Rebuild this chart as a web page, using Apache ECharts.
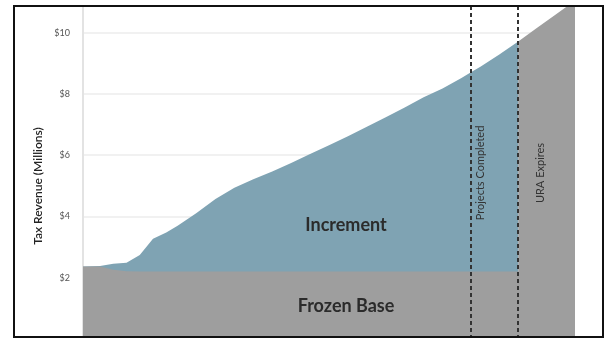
<!DOCTYPE html>
<html>
<head>
<meta charset="utf-8">
<script src="https://cdn.jsdelivr.net/npm/echarts@6/dist/echarts.min.js"></script>
<style>
html,body{margin:0;padding:0;background:#fff;}
#chart{width:610px;height:339px;}
</style>
</head>
<body>
<div id="chart"></div>
<script>
// Years since district formation (reading the horizontal position)
var years = [0, 0.9, 1.6, 2.3, 3, 3.7, 4.4, 5, 6, 7, 8, 9, 10, 11, 12, 13, 14, 15, 16, 17, 18, 19, 20, 20.5, 21, 22, 23, 24, 25, 26];
// Total tax revenue ($ millions)
var totalRevenue = [2.37, 2.38, 2.46, 2.49, 2.74, 3.27, 3.48, 3.70, 4.11, 4.57, 4.94, 5.22, 5.47, 5.75, 6.04, 6.33, 6.62, 6.93, 7.24, 7.56, 7.89, 8.18, 8.52, 8.71, 8.89, 9.29, 9.71, 10.16, 10.60, 11.05];
// Frozen base ($ millions) until the URA expires
var frozenBase = [2.37, 2.37, 2.26, 2.21, 2.2, 2.2, 2.2, 2.2, 2.2, 2.2, 2.2, 2.2, 2.2, 2.2, 2.2, 2.2, 2.2, 2.2, 2.2, 2.2, 2.2, 2.2, 2.2, 2.2, 2.2, 2.2, 2.2];
var projectsCompleted = 20.5;
var uraExpires = 23;
var yTicks = [2, 4, 6, 8, 10];
var labelPos = { increment: [13.9, 3.72], base: [13.9, 1.06] };

var totalData = [];
var baseData = [];
for (var i = 0; i < years.length; i++) {
  if (years[i] <= uraExpires) {
    totalData.push([years[i], totalRevenue[i]]);
    baseData.push([years[i], frozenBase[i]]);
  }
}
for (var j = 0; j < years.length; j++) {
  if (years[j] >= uraExpires) baseData.push([years[j], totalRevenue[j]]);
}

var chart = echarts.init(document.getElementById('chart'), null, {renderer: 'canvas'});
chart.setOption({
  animation: false,
  backgroundColor: '#ffffff',
  grid: {left: 83, right: 35, top: 7, bottom: -4, containLabel: false},
  xAxis: {
    type: 'value', min: 0, max: 26,
    axisLine: {show: false}, axisTick: {show: false}, axisLabel: {show: false}, splitLine: {show: false}
  },
  yAxis: {
    type: 'value', min: 0, max: 10.84, interval: 2,
    axisLine: {show: true, lineStyle: {color: '#e3e3e3', width: 2}},
    axisTick: {show: false},
    splitLine: {show: true, showMinLine: false, showMaxLine: false, lineStyle: {color: '#ececec', width: 1.5}},
    axisLabel: {
      margin: 13, color: '#555', fontSize: 9, fontFamily: 'Lato',
      formatter: function (v) { return yTicks.indexOf(v) >= 0 ? '$' + v : ''; }
    }
  },
  series: [
    {
      name: 'Increment', type: 'line', data: totalData, symbol: 'none', z: 2,
      lineStyle: {width: 0}, areaStyle: {color: '#7fa3b3', opacity: 1}
    },
    {
      name: 'Frozen Base', type: 'line', data: baseData, symbol: 'none', z: 3,
      lineStyle: {width: 0}, areaStyle: {color: '#9e9e9e', opacity: 1}
    },
    {
      name: 'annotations', type: 'line', data: [], z: 5, symbol: 'none',
      markLine: {
        silent: true, symbol: ['none', 'none'],
        lineStyle: {color: '#333', width: 2, type: [4, 3]},
        label: {show: true, position: 'insideMiddleBottom', color: '#333', fontSize: 11, fontFamily: 'Lato'},
        data: [
          {xAxis: projectsCompleted, label: {formatter: 'Projects Completed', distance: 4}},
          {xAxis: uraExpires, label: {formatter: 'URA Expires', distance: 17}}
        ]
      },
      markPoint: {
        silent: true, symbol: 'circle', symbolSize: 0,
        label: {show: true, position: 'inside', color: '#2b2b2b', fontSize: 18, fontWeight: 'bold', fontFamily: 'Lato'},
        data: [
          {coord: labelPos.increment, label: {formatter: 'Increment'}},
          {coord: labelPos.base, label: {formatter: 'Frozen Base'}}
        ]
      }
    }
  ],
  graphic: [
    {type: 'rect', z: 100, shape: {x: 0, y: 338, width: 610, height: 2}, style: {fill: '#ffffff'}},
    {type: 'rect', z: 101, shape: {x: 14, y: 6, width: 589, height: 331}, style: {fill: 'none', stroke: '#111', lineWidth: 2}},
    {type: 'text', z: 101, x: 38, y: 186, rotation: Math.PI / 2,
     style: {text: 'Tax Revenue (Millions)', font: '600 12px Lato', fill: '#222', align: 'center', verticalAlign: 'middle'}}
  ]
});
</script>
</body>
</html>
